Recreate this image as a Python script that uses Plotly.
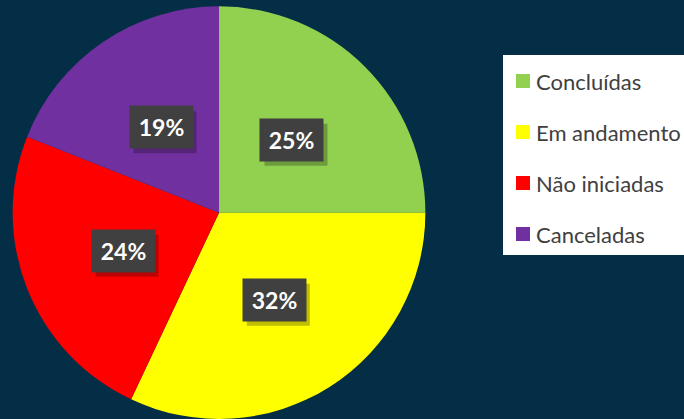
import math
import plotly.graph_objects as go

# data
labels = ["Concluídas", "Em andamento", "Não iniciadas", "Canceladas"]
values = [25, 32, 24, 19]
colors = ["#92D050", "#FFFF00", "#FF0000", "#7030A0"]

W, H = 684, 419
bg = "#032e46"

dom_x = [0, 0.6404]
dom_y = [0, 0.985]

fig = go.Figure(go.Pie(
    labels=labels,
    values=values,
    marker=dict(colors=colors, line=dict(width=0)),
    sort=False,
    direction="clockwise",
    textinfo="none",
    hoverinfo="label+percent",
    showlegend=False,
    domain=dict(x=dom_x, y=dom_y),
))

# pie geometry in pixels (same rule plotly uses: radius = half the smaller side)
r = min((dom_x[1] - dom_x[0]) * W, (dom_y[1] - dom_y[0]) * H) / 2
cx = (dom_x[0] + dom_x[1]) / 2 * W
cy = (1 - (dom_y[0] + dom_y[1]) / 2) * H

# data labels in dark boxes, halfway out along each slice's mid angle
bw, bh = 63, 42
total = sum(values)
cum = 0
for v in values:
    mid = (cum + v / 2) / total * 2 * math.pi
    cum += v
    px_ = cx + 0.5 * r * math.sin(mid)
    py_ = cy - 0.5 * r * math.cos(mid)
    # soft shadow behind the box
    fig.add_shape(type="rect", xref="paper", yref="paper",
                  x0=(px_ - bw / 2 + 4) / W, x1=(px_ + bw / 2 + 4) / W,
                  y0=1 - (py_ + bh / 2 + 5) / H, y1=1 - (py_ - bh / 2 + 5) / H,
                  fillcolor="rgba(0,0,0,0.25)", line=dict(width=0), layer="above")
    fig.add_annotation(x=px_ / W, y=1 - py_ / H, xref="paper", yref="paper",
                       xanchor="center", yanchor="middle",
                       text=f"<b>{round(v / total * 100)}%</b>", showarrow=False,
                       width=bw, height=bh, bgcolor="#404040", borderpad=0,
                       font=dict(family="Lato", color="white", size=23))

# legend drawn by hand: white panel, square swatches, grey text
fig.add_shape(type="rect", xref="paper", yref="paper",
              x0=503 / W, x1=1.02, y0=1 - 255 / H, y1=1 - 55 / H,
              fillcolor="white", line=dict(width=0), layer="above")
for i, (lab, col) in enumerate(zip(labels, colors)):
    yc = 81 + i * 51
    fig.add_shape(type="rect", xref="paper", yref="paper",
                  x0=516 / W, x1=530 / W, y0=1 - (yc + 7) / H, y1=1 - (yc - 7) / H,
                  fillcolor=col, line=dict(width=0), layer="above")
    fig.add_annotation(x=534 / W, y=1 - yc / H, xref="paper", yref="paper",
                       text=lab, showarrow=False, xanchor="left", yanchor="middle",
                       font=dict(family="Lato", color="#404040", size=22))

fig.update_layout(
    width=W, height=H,
    margin=dict(l=0, r=0, t=0, b=0),
    paper_bgcolor=bg,
    plot_bgcolor=bg,
)

fig.write_html("out.html", config={"displayModeBar": False},
               post_script="document.body.style.margin='0';")
